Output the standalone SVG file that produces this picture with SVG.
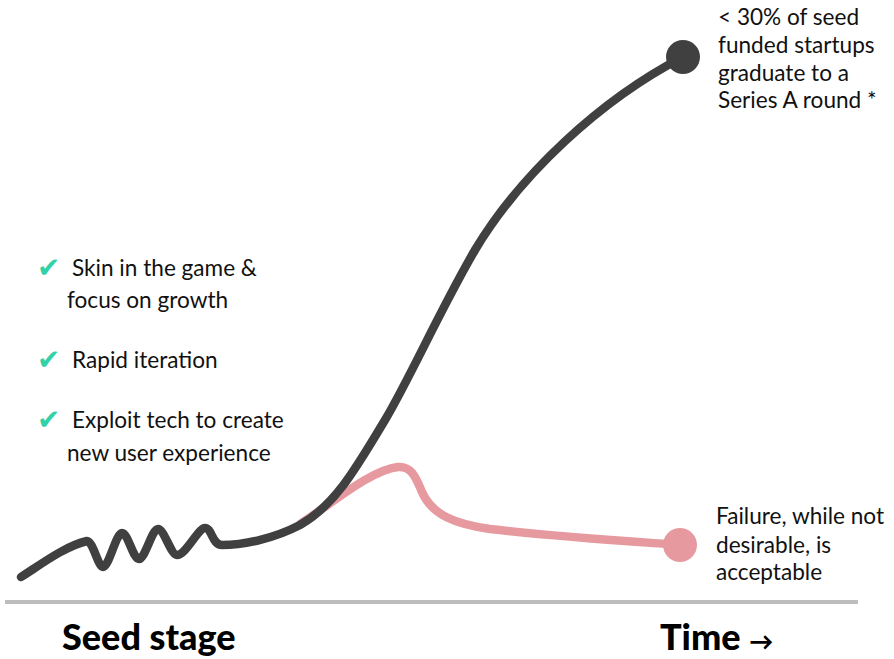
<svg xmlns="http://www.w3.org/2000/svg" width="894" height="659" viewBox="0 0 894 659">
<style>
.t{font-family:"Lato","Liberation Sans",sans-serif;font-size:22.6px;fill:#111}
.h{font-family:"Lato","Liberation Sans",sans-serif;font-size:36px;font-weight:900;fill:#000}
.ck{font-family:"DejaVu Sans",sans-serif;font-size:28px;fill:#33d1a6}
.dark{fill:none;stroke:#404040;stroke-width:8.5;stroke-linecap:round;stroke-linejoin:round}
.pink{fill:none;stroke:#e69aa0;stroke-width:8.5;stroke-linecap:round}
</style>
<rect width="894" height="659" fill="#fff"/>
<line x1="5" y1="602" x2="858" y2="602" stroke="#bdbdbd" stroke-width="4"/>
<g id="connectors">
<path class="pink" d="M300,524 C330,505 370,470 398,467 C412,466 416,478 422,492 C432,515 455,524 490,529 C560,537 640,542 680,545"/>
<path class="dark" d="M21,577 C40,565 65,546 87,541 C93,541 98,567 103,567 C109,567 116,533 122,533 C128,533 133,559 139,559 C145,559 152,529 158,529 C164,529 171,555 177,555 C186,555 198,528 205,528 C212,528 212,545 222,545 C245,545 275,538 300,525 C335,505 355,470 385,420 C410,378 440,310 475,250 C520,175 600,100 683,57"/>
</g>
<g id="success">
<circle cx="683" cy="57" r="17" fill="#404040"/>
<text class="t" x="718" y="25">&lt; 30% of seed</text>
<text class="t" x="718" y="53">funded startups</text>
<text class="t" x="718" y="81">graduate to a</text>
<text class="t" x="718" y="108">Series A round *</text>
</g>
<g id="failure">
<circle cx="680" cy="545" r="17" fill="#e69aa0"/>
<text class="t" x="716" y="524">Failure, while not</text>
<text class="t" x="716" y="553">desirable, is</text>
<text class="t" x="716" y="580">acceptable</text>
</g>
<g id="list">
<text class="ck" x="37" y="277">✔</text>
<text class="t" x="72" y="276">Skin in the game &amp;</text>
<text class="t" x="67" y="308">focus on growth</text>
<text class="ck" x="37" y="369">✔</text>
<text class="t" x="72" y="368">Rapid iteration</text>
<text class="ck" x="37" y="429">✔</text>
<text class="t" x="72" y="428">Exploit tech to create</text>
<text class="t" x="67" y="461">new user experience</text>
</g>
<g id="axis-labels">
<text class="h" x="62" y="650">Seed stage</text>
<text class="h" x="660" y="650">Time <tspan font-size="24">→</tspan></text>
</g>
</svg>
